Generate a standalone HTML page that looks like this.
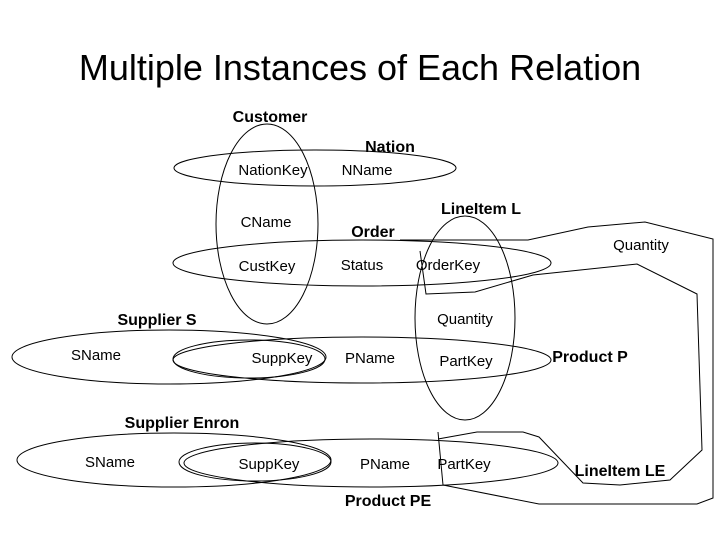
<!DOCTYPE html>
<html><head><meta charset="utf-8"><style>
body{margin:0;width:720px;height:540px;background:#fff;overflow:hidden}
svg text{font-family:"Liberation Sans",sans-serif;fill:#000}
.n{font-size:15px}
.b{font-size:16px;font-weight:bold}
</style></head><body>
<svg width="720" height="540" viewBox="0 0 720 540" xmlns="http://www.w3.org/2000/svg">
<text x="360" y="80" text-anchor="middle" font-size="36">Multiple Instances of Each Relation</text>
<g fill="none" stroke="#000" stroke-width="1">
<ellipse cx="267" cy="224" rx="51" ry="100"/>
<ellipse cx="315" cy="168" rx="141" ry="18"/>
<ellipse cx="362" cy="263" rx="189" ry="23"/>
<ellipse cx="465" cy="318" rx="50" ry="102"/>
<ellipse cx="169" cy="357" rx="157" ry="27"/>
<ellipse cx="249" cy="359" rx="76" ry="19"/>
<ellipse cx="362" cy="360" rx="189" ry="23"/>
<ellipse cx="174" cy="460" rx="157" ry="27"/>
<ellipse cx="255" cy="462" rx="76" ry="19"/>
<ellipse cx="371" cy="463" rx="187" ry="24"/>
<polyline points="400,240 528,240 588,227 645,222 713,239 713,498 697,504 539,504 443,485"/>
<polyline points="420,251 426,294 475,292 533,275 637,264 697,294 702,450 670,480 620,485 583,483 539,437 523,432 477,432 438,439"/>
<line x1="438" y1="432" x2="443" y2="485"/>
</g>
<g text-anchor="middle">
<text class="b" x="270" y="122">Customer</text>
<text class="b" x="390" y="152">Nation</text>
<text class="n" x="273" y="175">NationKey</text>
<text class="n" x="367" y="175">NName</text>
<text class="n" x="266" y="227">CName</text>
<text class="b" x="373" y="237">Order</text>
<text class="b" x="481" y="214">LineItem L</text>
<text class="n" x="641" y="250">Quantity</text>
<text class="n" x="267" y="271">CustKey</text>
<text class="n" x="362" y="270">Status</text>
<text class="n" x="448" y="270">OrderKey</text>
<text class="b" x="157" y="325">Supplier S</text>
<text class="n" x="465" y="324">Quantity</text>
<text class="n" x="96" y="360">SName</text>
<text class="n" x="282" y="363">SuppKey</text>
<text class="n" x="370" y="363">PName</text>
<text class="n" x="466" y="366">PartKey</text>
<text class="b" x="590" y="362">Product P</text>
<text class="b" x="182" y="428">Supplier Enron</text>
<text class="n" x="110" y="467">SName</text>
<text class="n" x="269" y="469">SuppKey</text>
<text class="n" x="385" y="469">PName</text>
<text class="n" x="464" y="469">PartKey</text>
<text class="b" x="620" y="476">LineItem LE</text>
<text class="b" x="388" y="506">Product PE</text>
</g>
</svg>
</body></html>
